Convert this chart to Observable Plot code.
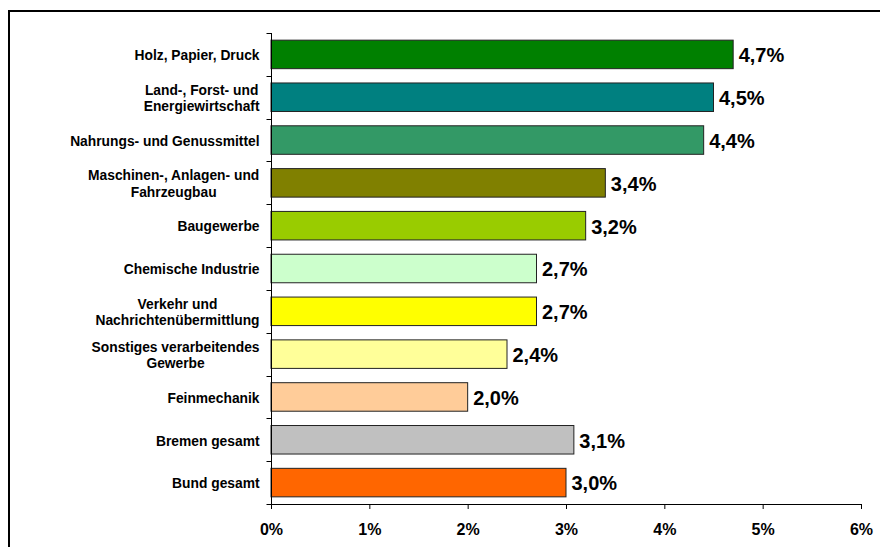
<!DOCTYPE html>
<html><head><meta charset="utf-8">
<script src="https://cdn.jsdelivr.net/npm/d3@7"></script>
<script src="https://cdn.jsdelivr.net/npm/@observablehq/plot@0.6"></script>
<style>
html,body{margin:0;padding:0;background:#fff;overflow:hidden;}
#wrap{position:relative;width:880px;height:547px;overflow:hidden;background:#fff;}
#chart{position:absolute;left:0;top:0;}
#frame{position:absolute;left:8px;top:10px;width:920px;height:620px;border:2px solid #000;box-sizing:border-box;pointer-events:none;}
</style></head><body>
<div id="wrap"><div id="chart"></div><div id="frame"></div></div>
<script>
const categories = [
  "Holz, Papier, Druck",
  "Land-, Forst- und\nEnergiewirtschaft",
  "Nahrungs- und Genussmittel",
  "Maschinen-, Anlagen- und\nFahrzeugbau",
  "Baugewerbe",
  "Chemische Industrie",
  "Verkehr und\nNachrichtenübermittlung",
  "Sonstiges verarbeitendes\nGewerbe",
  "Feinmechanik",
  "Bremen gesamt",
  "Bund gesamt"
];
const values = [4.7, 4.5, 4.4, 3.4, 3.2, 2.7, 2.7, 2.4, 2.0, 3.08, 3.0];
const colors = ["#008000", "#008080", "#339966", "#808000", "#99CC00", "#CCFFCC", "#FFFF00", "#FFFF99", "#FFCC99", "#C0C0C0", "#FF6600"];
const xTicks = [0, 1, 2, 3, 4, 5, 6];

const data = categories.map((c, i) => ({
  category: c,
  value: values[i],
  color: colors[i],
  label: values[i].toFixed(1).replace(".", ",") + "%"
}));

const FONT = '"Liberation Sans", Arial, Helvetica, sans-serif';
const CAT_SIZE = 13.8;
const ctx = document.createElement("canvas").getContext("2d");
ctx.font = `bold ${CAT_SIZE}px ${FONT}`;
const blockWidth = s => Math.max(...s.split("\n").map(l => ctx.measureText(l).width));

const labelMarks = categories.map(c => Plot.text([c], {
  y: d => d,
  text: d => d,
  frameAnchor: "left",
  textAnchor: "middle",
  lineAnchor: "middle",
  lineHeight: 1.2,
  dx: -(12 + blockWidth(c) / 2),
  fontSize: CAT_SIZE,
  fontWeight: "bold",
  fill: "#000"
}));

function axisLines(index, scales) {
  const {x, y} = scales;
  const g = d3.create("svg:g").attr("stroke", "#000").attr("fill", "none").attr("stroke-width", 1);
  const x0 = Math.round(x(0)) + 0.5;
  const bw = y.bandwidth();
  const step = y(categories[1]) - y(categories[0]);
  const gap = (step - bw) / 2;
  const top = y(categories[0]) - gap;
  const bottom = y(categories[categories.length - 1]) + bw + gap;
  const yb = Math.round(bottom) + 0.5;
  g.append("line").attr("x1", x0).attr("x2", x0).attr("y1", top).attr("y2", yb);
  g.append("line").attr("x1", x0).attr("x2", x(d3.max(xTicks))).attr("y1", yb).attr("y2", yb);
  const bounds = categories.map(c => Math.round(y(c) - gap) + 0.5).concat([yb]);
  for (const b of bounds) g.append("line").attr("x1", x0 - 5).attr("x2", x0).attr("y1", b).attr("y2", b);
  return g.node();
}

const chart = Plot.plot({
  width: 880,
  height: 547,
  marginLeft: 271,
  marginRight: 19,
  marginTop: 33,
  marginBottom: 43,
  style: {fontFamily: FONT, fontSize: "16px", fontWeight: "bold", color: "#000", background: "transparent"},
  x: {domain: [0, 6], axis: null},
  y: {domain: categories, paddingInner: 0.334, paddingOuter: 0.167, round: false, axis: null},
  marks: [
    Plot.barX(data, {x: "value", y: "category", fill: "color", stroke: "#222", strokeWidth: 1}),
    Plot.text(data, {x: "value", y: "category", text: "label", dx: 5, dy: 1, textAnchor: "start", lineAnchor: "middle", fontSize: 20, fontWeight: "bold", fill: "#000"}),
    ...labelMarks,
    Plot.axisX(xTicks, {anchor: "bottom", tickSize: 5, tickPadding: 14, tickFormat: d => d + "%", fontSize: 16, fontWeight: "bold", label: null, stroke: "#000"}),
    axisLines
  ]
});
document.getElementById("chart").appendChild(chart);
</script>
</body></html>
